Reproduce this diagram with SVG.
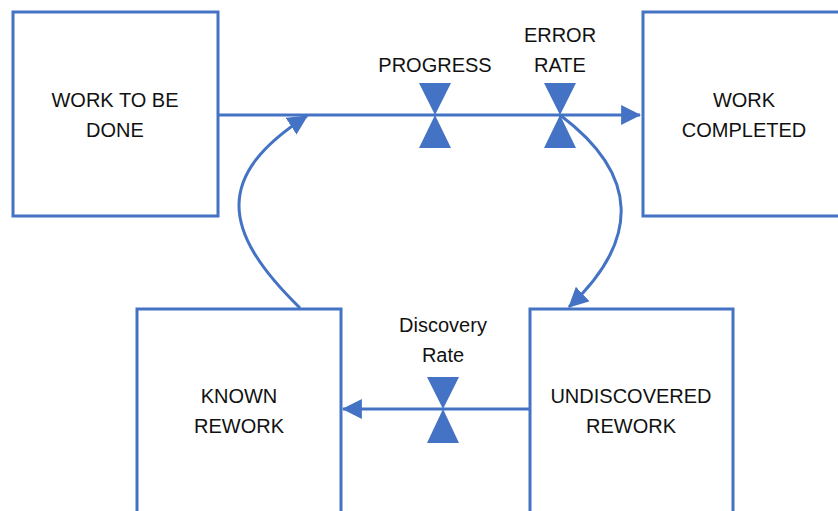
<svg xmlns="http://www.w3.org/2000/svg" width="838" height="511" viewBox="0 0 838 511">
  <style>
    .box { fill: #ffffff; stroke: #4472C4; stroke-width: 3; }
    .flow { fill: none; stroke: #4472C4; stroke-width: 3; }
    .valve { fill: #4472C4; stroke: none; }
    text { font-family: "Liberation Sans", Arial, sans-serif; font-size: 20px; fill: #111111; text-anchor: middle; }
  </style>
  <defs>
    <marker id="arrow" markerUnits="userSpaceOnUse" markerWidth="20" markerHeight="20" viewBox="0 0 18 18" refX="17" refY="9" orient="auto">
      <path d="M0,0 L18,9 L0,18 Z" fill="#4472C4"/>
    </marker>
  </defs>

  <rect width="838" height="511" fill="#ffffff"/>

  <!-- flows and feedback curves -->
  <g id="connectors">
    <line class="flow" x1="218" y1="115" x2="640" y2="115" marker-end="url(#arrow)"/>
    <line class="flow" x1="530" y1="409" x2="343" y2="409" marker-end="url(#arrow)"/>
    <path class="flow" d="M300,308 C220,230 215,175 307,116" marker-end="url(#arrow)"/>
    <path class="flow" d="M560,115 C640,175 640,240 569,307" marker-end="url(#arrow)"/>
  </g>

  <!-- stocks -->
  <g id="work-to-be-done">
    <rect class="box" x="13" y="12" width="205" height="204"/>
    <text x="115" y="107">WORK TO BE</text>
    <text x="115" y="137">DONE</text>
  </g>

  <g id="work-completed">
    <rect class="box" x="643" y="12" width="210" height="204"/>
    <text x="744" y="107">WORK</text>
    <text x="744" y="137">COMPLETED</text>
  </g>

  <g id="known-rework">
    <rect class="box" x="137" y="309" width="204" height="215"/>
    <text x="239" y="403">KNOWN</text>
    <text x="239" y="433">REWORK</text>
  </g>

  <g id="undiscovered-rework">
    <rect class="box" x="530" y="309" width="203" height="215"/>
    <text x="631" y="403">UNDISCOVERED</text>
    <text x="631" y="433">REWORK</text>
  </g>

  <!-- rate valves -->
  <g id="progress">
    <path class="valve" d="M419,83 L451,83 L435,115 Z M435,115 L451,148 L419,148 Z"/>
    <text x="435" y="72">PROGRESS</text>
  </g>

  <g id="error-rate">
    <path class="valve" d="M544,83 L576,83 L560,115 Z M560,115 L576,148 L544,148 Z"/>
    <text x="560" y="42">ERROR</text>
    <text x="560" y="72">RATE</text>
  </g>

  <g id="discovery-rate">
    <path class="valve" d="M427,377 L459,377 L443,409 Z M443,409 L459,443 L427,443 Z"/>
    <text x="443" y="332">Discovery</text>
    <text x="443" y="362">Rate</text>
  </g>
</svg>
